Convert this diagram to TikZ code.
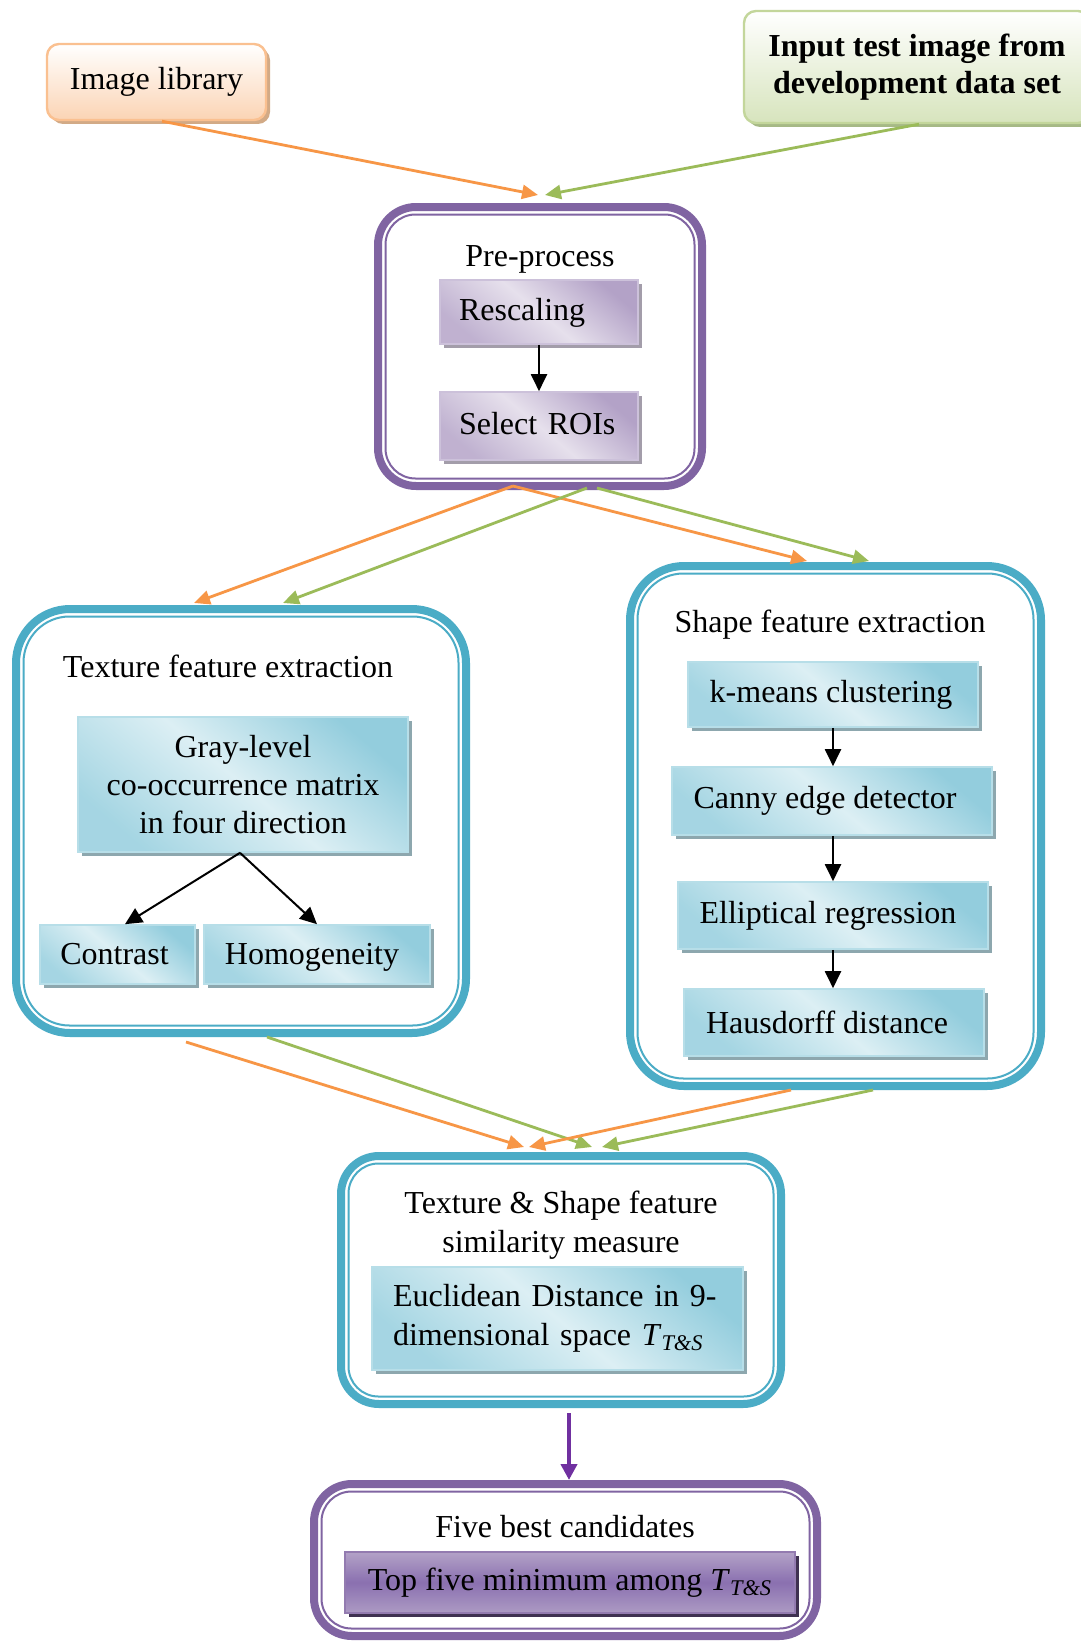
\documentclass[tikz,border=0pt]{standalone}
\usepackage{fontspec}
\setmainfont{Liberation Serif}
\usetikzlibrary{arrows.meta,shadows}

\definecolor{ringpurple}{HTML}{8064A2}
\definecolor{ringblue}{HTML}{4BACC6}
\definecolor{arrorange}{HTML}{F79646}
\definecolor{arrgreen}{HTML}{9BBB59}
\definecolor{arrviolet}{HTML}{7030A0}
\definecolor{peach}{HTML}{FBD4B4}
\definecolor{peachline}{HTML}{FAC090}
\definecolor{peachshadow}{HTML}{D2AA86}
\definecolor{olive}{HTML}{D7E4BD}
\definecolor{oliveline}{HTML}{C3D69B}
\definecolor{oliveshadow}{HTML}{A6B986}
\definecolor{aqualight}{HTML}{DCEFF4}
\definecolor{aquadark}{HTML}{93CDDD}
\definecolor{aqualine}{HTML}{B7DEE8}
\definecolor{aquashadow}{HTML}{8DA7AE}
\definecolor{lavlight}{HTML}{E6E0EC}
\definecolor{lavdark}{HTML}{B3A2C7}
\definecolor{lavline}{HTML}{CCC1DA}
\definecolor{lavshadow}{HTML}{A39DAA}
\definecolor{plumtop}{HTML}{B3A2C7}
\definecolor{plummid}{HTML}{8A70B0}
\definecolor{plumshadow}{HTML}{3F3151}

% T with subscript T&S, both italic
\newcommand\tsub{\textit{T}\textsubscript{\textit{T\&S}}}

\begin{document}
\begin{tikzpicture}[x=0.5pt,y=-0.5pt,
  font=\fontsize{16}{18.5}\selectfont,
  ring/.style={draw=#1, line width=4pt, outer sep=2pt, inner sep=0pt},
  inring/.style={draw=#1, line width=1pt},
  boxshadow/.style={drop shadow={shadow xshift=2pt, shadow yshift=-2pt, fill=#1, opacity=1}},
  aquabox/.style={draw=aqualine, line width=0.8pt, inner sep=0pt, align=center,
    top color=aquadark, bottom color=aquadark!75!aqualight, middle color=aqualight,
    shading angle=-40, boxshadow=aquashadow},
  lavbox/.style={draw=lavline, line width=0.8pt, inner ysep=0pt,
    top color=lavdark, bottom color=lavdark!75!lavlight, middle color=lavlight,
    shading angle=-40, boxshadow=lavshadow},
  plumbox/.style={draw=ringpurple!85, line width=0.8pt, inner sep=0pt,
    top color=plumtop, bottom color=plumtop!85!plummid, middle color=plummid,
    boxshadow=plumshadow},
  peachbox/.style={draw=peachline, line width=1.2pt, rounded corners=6pt, inner sep=0pt,
    top color=white, bottom color=peach, boxshadow=peachshadow},
  olivebox/.style={draw=oliveline, line width=1.2pt, rounded corners=6pt, inner sep=0pt,
    top color=white, bottom color=olive, boxshadow=oliveshadow, align=center},
  oneline/.style={text height=11pt, text depth=#1},
  flow/.style={line width=1.4pt, draw=#1, -{Triangle[length=8pt,width=7pt,fill=#1]}},
  karrow/.style={line width=1pt, -{Triangle[length=8.5pt,width=8pt]}},
  varrow/.style={line width=2.2pt, draw=arrviolet, -{Triangle[length=8pt,width=8pt]}},
  title/.style={anchor=base, inner sep=0pt}
]
\clip (0,0) rectangle (1081,1643);
\fill[white] (0,0) rectangle (1081,1643);

% sources
\node[peachbox, minimum width=109.5pt, minimum height=38pt] (lib) at (156.5,82) {Image library};
\node[olivebox, minimum width=173pt, minimum height=56pt,
      font=\fontsize{16}{18.5}\selectfont\bfseries] (inp) at (917,67)
      {Input test image from\\development data set};

% pre-processing stage
\node[ring=ringpurple, rounded corners=19pt, minimum width=162pt, minimum height=139.5pt] (pre) at (540,346.5) {};
\draw[inring=ringpurple, rounded corners=15pt]
  ([shift={(5.75pt,-5.75pt)}]pre.north west) rectangle ([shift={(-5.75pt,5.75pt)}]pre.south east);
\node[title] (pret) at (540,266) {Pre-process};
\node[lavbox, oneline=2.5pt, text width=80pt, align=left, inner xsep=9.5pt, minimum height=32pt] (resc) at (539,312) {Rescaling};
\node[lavbox, oneline=2.5pt, text width=80pt, align=left, inner xsep=9.5pt, minimum height=34pt] (sel) at (539,426) {Select ROIs};

% texture branch
\node[ring=ringblue, rounded corners=27pt, minimum width=225pt, minimum height=212pt] (tex) at (241,821) {};
\draw[inring=ringblue, rounded corners=23pt]
  ([shift={(5.75pt,-5.75pt)}]tex.north west) rectangle ([shift={(-5.75pt,5.75pt)}]tex.south east);
\node[title] (text) at (228,677) {Texture feature extraction};
\node[aquabox, minimum width=165pt, minimum height=67.5pt, font=\fontsize{16}{18.8}\selectfont] (gray) at (243,784.5)
  {Gray-level\\co-occurrence matrix\\in four direction};
\node[aquabox, oneline=1pt, minimum width=77.5pt, minimum height=29.5pt] (con) at (117.5,954.5) {Contrast\hspace*{3pt}};
\node[aquabox, oneline=1pt, minimum width=113pt, minimum height=29.5pt] (hom) at (317,954.5) {Homogeneity\hspace*{5pt}};

% shape branch
\node[ring=ringblue, rounded corners=27pt, minimum width=205.5pt, minimum height=260pt] (shp) at (835.5,826) {};
\draw[inring=ringblue, rounded corners=23pt]
  ([shift={(5.75pt,-5.75pt)}]shp.north west) rectangle ([shift={(-5.75pt,5.75pt)}]shp.south east);
\node[title] (shpt) at (830,632) {Shape feature extraction};
\node[aquabox, minimum width=145pt, minimum height=32.5pt] (km) at (833,694.5) {k-means clustering\hspace*{2pt}};
\node[aquabox, minimum width=160pt, minimum height=34pt] (can) at (832,801) {Canny edge detector\hspace*{7pt}};
\node[aquabox, minimum width=155pt, minimum height=33.5pt] (ell) at (833,915.5) {Elliptical regression\hspace*{5pt}};
\node[aquabox, minimum width=150pt, minimum height=33.5pt] (hau) at (834,1022.5) {Hausdorff distance\hspace*{7pt}};

% similarity stage
\node[ring=ringblue, rounded corners=19pt, minimum width=220pt, minimum height=124pt] (sim) at (561,1280) {};
\draw[inring=ringblue, rounded corners=15pt]
  ([shift={(5.75pt,-5.75pt)}]sim.north west) rectangle ([shift={(-5.75pt,5.75pt)}]sim.south east);
\node[inner sep=0pt, align=center, font=\fontsize{16}{19.5}\selectfont] (simt) at (561,1225)
  {Texture \& Shape feature\\similarity measure};
\node[aquabox, text width=164.5pt, align=left, inner xsep=10.5pt, minimum height=51.5pt,
      font=\fontsize{16}{19.5}\selectfont] (euc) at (557.5,1318.5)
  {Euclidean Distance in 9-\\dimensional space \tsub};

% result stage
\node[ring=ringpurple, rounded corners=19pt, minimum width=251.5pt, minimum height=76pt] (five) at (565.5,1560) {};
\draw[inring=ringpurple, rounded corners=15pt]
  ([shift={(5.75pt,-5.75pt)}]five.north west) rectangle ([shift={(-5.75pt,5.75pt)}]five.south east);
\node[title] (fivt) at (565,1537) {Five best candidates};
\node[plumbox, minimum width=225pt, minimum height=30.5pt] (top) at (570,1582.5) {Top five minimum among \tsub};

% inputs into pre-processing
\draw[flow=arrorange] ([xshift=2.75pt]lib.south) -- ([xshift=-1pt,yshift=4pt]pre.north);
\draw[flow=arrgreen] ([xshift=1pt]inp.south) -- ([xshift=2.5pt,yshift=4pt]pre.north);

% pre-processing into both feature branches
\draw[flow=arrorange] ([xshift=-13.5pt,yshift=2pt]pre.south) -- ([xshift=-23.5pt,yshift=1pt]tex.north);
\draw[flow=arrorange] ([xshift=-13.5pt,yshift=2pt]pre.south) -- ([xshift=-14.25pt,yshift=0.5pt]shp.north);
\draw[flow=arrgreen] ([xshift=23.5pt,yshift=1pt]pre.south) -- ([xshift=21pt,yshift=1pt]tex.north);
\draw[flow=arrgreen] ([xshift=28.5pt,yshift=1pt]pre.south) -- ([xshift=16.75pt,yshift=0.5pt]shp.north);

% feature branches into similarity
\draw[flow=arrorange] ([xshift=-27.5pt,yshift=-2.5pt]tex.south) -- ([xshift=-18.5pt,yshift=2.5pt]sim.north);
\draw[flow=arrgreen] ([xshift=13pt]tex.south) -- ([xshift=15.5pt,yshift=2.5pt]sim.north);
\draw[flow=arrorange] ([xshift=-22.25pt]shp.south) -- ([xshift=-16pt,yshift=2.5pt]sim.north);
\draw[flow=arrgreen] ([xshift=18.75pt]shp.south) -- ([xshift=20.5pt,yshift=2.5pt]sim.north);

% similarity into result
\draw[varrow] ([xshift=4pt,yshift=-2.5pt]sim.south) -- ([xshift=4pt]sim.south |- five.north);

% inner steps
\draw[karrow] (resc.south) -- (sel.north);
\draw[karrow] ([xshift=-1.5pt]gray.south) -- ([xshift=3.75pt]con.north);
\draw[karrow] ([xshift=-1.5pt]gray.south) -- (hom.north);
\draw[karrow] (km.south) -- (km.south |- can.north);
\draw[karrow] (km.south |- can.south) -- (km.south |- ell.north);
\draw[karrow] (km.south |- ell.south) -- (km.south |- hau.north);
\end{tikzpicture}
\end{document}
